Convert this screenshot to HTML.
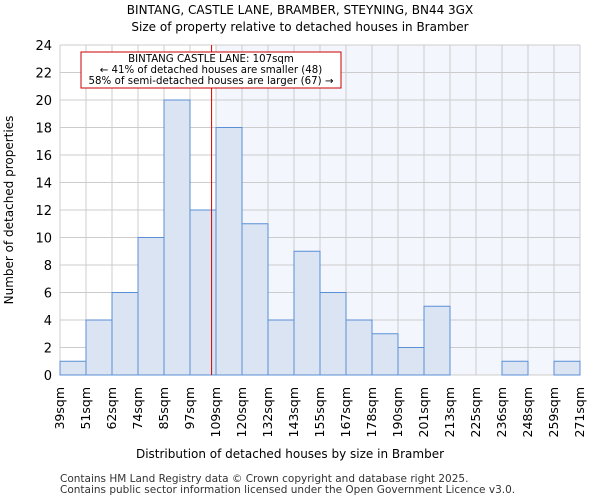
<!DOCTYPE html>
<html><head><meta charset="utf-8"><style>
body{margin:0;background:#fff;font-family:"DejaVu Sans","Liberation Sans",sans-serif}
</style></head><body>
<svg width="600" height="500" xmlns="http://www.w3.org/2000/svg" font-family="DejaVu Sans, Liberation Sans, sans-serif">
<text x="300" y="14" text-anchor="middle" font-size="12">BINTANG, CASTLE LANE, BRAMBER, STEYNING, BN44 3GX</text>
<text x="300" y="31" text-anchor="middle" font-size="12">Size of property relative to detached houses in Bramber</text>
<g id="plot"></g>
<text x="290" y="458" text-anchor="middle" font-size="12">Distribution of detached houses by size in Bramber</text>
<text transform="translate(13,210) rotate(-90)" text-anchor="middle" font-size="12">Number of detached properties</text>
<text x="60" y="482" font-size="10.5" fill="#333">Contains HM Land Registry data © Crown copyright and database right 2025.</text>
<text x="60" y="493" font-size="10.5" fill="#333">Contains public sector information licensed under the Open Government Licence v3.0.</text>
</svg>
<script>
const categories=["39sqm","51sqm","62sqm","74sqm","85sqm","97sqm","109sqm","120sqm","132sqm","143sqm","155sqm","167sqm","178sqm","190sqm","201sqm","213sqm","225sqm","236sqm","248sqm","259sqm","271sqm"];
const counts=[1,4,6,10,20,12,18,11,4,9,6,4,3,2,5,0,0,1,0,1];
const yTicks=[0,2,4,6,8,10,12,14,16,18,20,22,24];
const propertyBinPos=5.83;
const ns="http://www.w3.org/2000/svg";
const g=document.getElementById('plot');
const X0=60,X1=580,Y0=375,Y1=45,YMAX=24;
const bw=(X1-X0)/counts.length;
const xs=i=>X0+i*bw;
const ys=v=>Y0-(v/YMAX)*(Y0-Y1);
function mk(t,a){const e=document.createElementNS(ns,t);for(const k in a)e.setAttribute(k,a[k]);g.appendChild(e);return e;}
const shadeStart=xs(Math.ceil(propertyBinPos));
let e=mk('rect',{x:shadeStart,y:Y1,width:X1-shadeStart,height:Y0-Y1,fill:'#f3f6fd'});


for(let i=0;i<=counts.length;i++){e=mk('line',{x1:xs(i),x2:xs(i),y1:Y1,y2:Y0,stroke:'#cccccc','stroke-width':1});

}
yTicks.forEach(v=>{e=mk('line',{x1:X0,x2:X1,y1:ys(v),y2:ys(v),stroke:'#cccccc','stroke-width':1});


e=mk('text',{x:X0-8,y:ys(v)+5,'text-anchor':'end','font-size':13});e.textContent=v;

});
counts.forEach((c,i)=>{if(c<=0)return;e=mk('rect',{x:xs(i),y:ys(c),width:bw,height:Y0-ys(c),fill:'#dae4f3',stroke:'#5a8fd6','stroke-width':1});

});
categories.forEach((c,i)=>{const x=xs(i)+4;e=mk('text',{x:x,y:387,'text-anchor':'end','font-size':12.5,transform:`rotate(-90 ${x} 387)`});e.textContent=c;

});
const rx=xs(propertyBinPos);
e=mk('line',{x1:rx,x2:rx,y1:Y1,y2:Y0,stroke:'#dd0000','stroke-width':1});


e=mk('rect',{x:81,y:52,width:260,height:36,fill:'#fff',stroke:'#cc0000','stroke-width':1});


["BINTANG CASTLE LANE: 107sqm","← 41% of detached houses are smaller (48)","58% of semi-detached houses are larger (67) →"].forEach((t,i)=>{e=mk('text',{x:211,y:62+i*11,'text-anchor':'middle','font-size':10.2,textLength:i==2?245:null});if(i!=2)e.removeAttribute('textLength');e.textContent=t;

});
</script>
</body></html>
